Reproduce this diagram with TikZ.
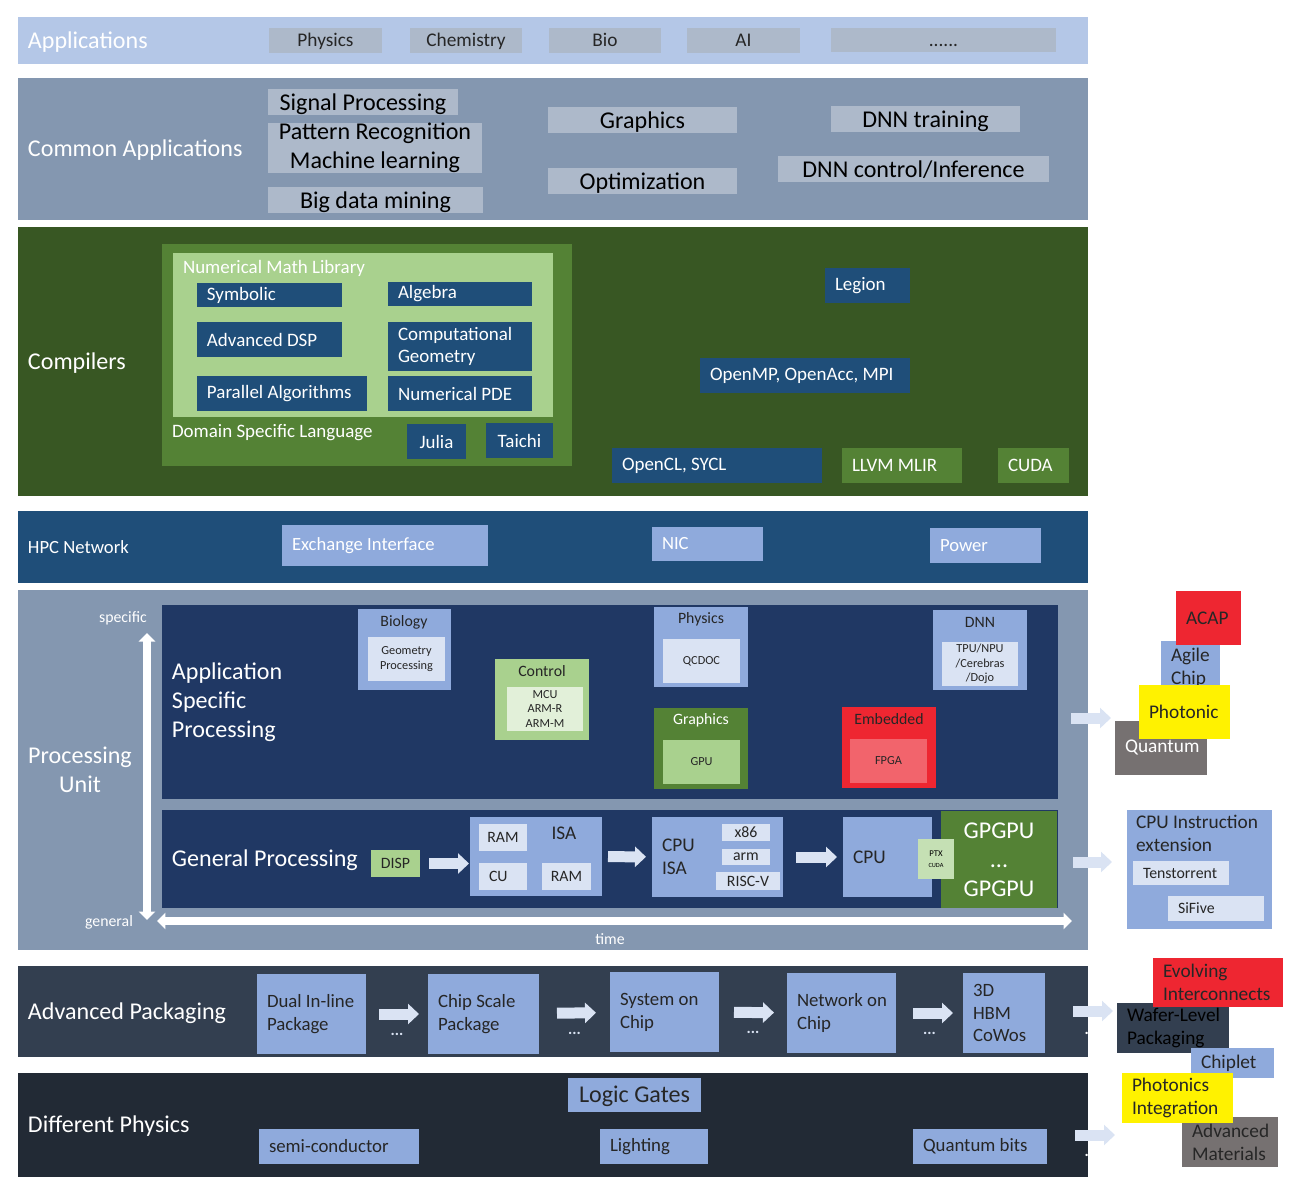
\documentclass[tikz,border=0pt]{standalone}
\usepackage{fontspec}
\setmainfont{Carlito}
\usepackage{xcolor}
\usepackage{tikz}
\usetikzlibrary{arrows.meta,positioning}

\definecolor{appblue}{HTML}{B4C7E7}
\definecolor{appgray}{HTML}{ADB9CA}
\definecolor{slate}{HTML}{8497B0}
\definecolor{dkgreen}{HTML}{385723}
\definecolor{mdgreen}{HTML}{548235}
\definecolor{ltgreen}{HTML}{A9D18E}
\definecolor{pagreen}{HTML}{E2F0D9}
\definecolor{ptxgreen}{HTML}{C5E0B4}
\definecolor{navy}{HTML}{1F4E79}
\definecolor{midblue}{HTML}{8FAADC}
\definecolor{paleblue}{HTML}{DAE3F3}
\definecolor{dknavy}{HTML}{203864}
\definecolor{hotred}{HTML}{EE2631}
\definecolor{pinkred}{HTML}{F2646C}
\definecolor{stone}{HTML}{767171}
\definecolor{pkgslate}{HTML}{333F50}
\definecolor{physdark}{HTML}{222A35}
\definecolor{txtdark}{HTML}{262626}

\begin{document}
\begin{tikzpicture}[
  x=0.02cm, y=-0.02cm,
  every node/.style={inner sep=0pt, outer sep=0pt},
  % w x h box (pixels), placed by its top-left corner
  wh/.style 2 args={rectangle, anchor=north west,
                    minimum width=#1*0.02cm, minimum height=#2*0.02cm},
  % same, text flush left
  lft/.style 2 args={rectangle, anchor=north west, align=flush left,
                     text width=(#1-20)*0.02cm, inner xsep=0.2cm,
                     minimum height=#2*0.02cm},
  % font sizes
  fxl/.style={font=\fontsize{13.7pt}{16.4pt}\selectfont},
  fl/.style={font=\fontsize{11pt}{13pt}\selectfont},
  fm/.style={font=\fontsize{10.8pt}{13pt}\selectfont},
  fs/.style={font=\fontsize{9pt}{10.5pt}\selectfont},
  fxs/.style={font=\fontsize{7pt}{8.2pt}\selectfont},
  oneline/.style={text height=12pt, text depth=3pt},
  band/.style={fxl, text=white},
  appbox/.style={fill=appgray, text=txtdark, font=\fontsize{11pt}{13pt}\selectfont,
                 text height=8.5pt, text depth=1.5pt},
  cabox/.style={fill=appgray, text=black, align=center, fxl},
  cbx/.style={fill=navy, text=white, fm},
  hbx/.style={fill=midblue, text=white, font=\fontsize{10.6pt}{13pt}\selectfont},
  ttl/.style={fs, text=txtdark},
  inbox/.style={fill=paleblue, text=txtdark, fxs, align=center},
  chip/.style={fill=paleblue, text=txtdark, fs},
  pkg/.style={fill=midblue, text=txtdark, font=\fontsize{10.7pt}{13pt}\selectfont},
  stk/.style={text=txtdark, font=\fontsize{11pt}{13pt}\selectfont},
  fat/.style={-{Triangle[length=0.22cm, width=0.4cm]}, line width=0.22cm, paleblue},
  dots/.style={text=paleblue, font=\fontsize{9pt}{10pt}\selectfont\bfseries, yshift=-0.4cm},
  axis/.style={{Triangle[length=0.17cm, width=0.32cm]}-{Triangle[length=0.17cm, width=0.32cm]},
               line width=0.15cm, white}
]
\useasboundingbox (0,0) rectangle (1299,1203);

% ── Applications ──────────────────────────────────────────────
\node[band, oneline, lft={1070}{47}, fill=appblue] (apps) at (18,17) {Applications};
\node[appbox, wh={113}{25}] (aphys) at (269,28)  {Physics};
\node[appbox, wh={112}{25}] (achem) at (410,28)  {Chemistry};
\node[appbox, wh={112}{25}] (abio)  at (549,28)  {Bio};
\node[appbox, wh={113}{25}] (aai)   at (687,28)  {AI};
\node[appbox, wh={225}{24}] (amore) at (831,28)  {......};

% ── Common applications ───────────────────────────────────────
\node[band, oneline, lft={1070}{142}, fill=slate] (common) at (18,78) {Common Applications};
\node[cabox, oneline, wh={190}{24}] (sigproc) at (268,89)  {Signal Processing};
\node[cabox, wh={214}{50}] (patrec)  at (268,123) {Pattern Recognition\\Machine learning};
\node[cabox, oneline, wh={215}{23}] (bigdata) at (268,187) {Big data mining};
\node[cabox, oneline, wh={189}{24}] (graph)   at (548,107) {Graphics};
\node[cabox, oneline, wh={189}{23}] (optim)   at (548,168) {Optimization};
\node[cabox, oneline, wh={189}{24}] (dnntr)   at (831,106) {DNN training};
\node[cabox, oneline, wh={271}{24}] (dnninf)  at (778,156) {DNN control/Inference};

% ── Compilers ─────────────────────────────────────────────────
\node[band, oneline, lft={1070}{269}, fill=dkgreen] (comp) at (18,227) {Compilers};
\node[wh={410}{222}, fill=mdgreen] (dsl) at (162,244) {};
\node[wh={380}{164}, fill=ltgreen] (nml) at (173,253) {};
\node[fm, text=white, anchor=west] (nmllbl) at (183,268) {Numerical Math Library};
\node[cbx, lft={145}{24}] (symb) at (197,283) {Symbolic};
\node[cbx, lft={144}{24}] (alg)  at (388,282) {Algebra};
\node[cbx, lft={145}{35}] (adsp) at (197,322) {Advanced DSP};
\node[cbx, lft={144}{49}] (cgeo) at (388,322) {Computational\\Geometry};
\node[cbx, lft={170}{35}] (palg) at (197,376) {Parallel Algorithms};
\node[cbx, lft={144}{35}] (npde) at (388,376) {Numerical PDE};
\node[fm, text=white, anchor=west] (dsllbl) at (172,433) {Domain Specific Language};
\node[cbx, wh={59}{35}] (julia)  at (407,424) {Julia};
\node[cbx, wh={67}{35}] (taichi) at (486,423) {Taichi};
\node[cbx, lft={85}{35}]  (legion) at (825,268) {Legion};
\node[cbx, lft={210}{35}] (omp)    at (700,358) {OpenMP, OpenAcc, MPI};
\node[cbx, lft={210}{35}] (ocl)    at (612,448) {OpenCL, SYCL};
\node[cbx, lft={120}{35}, fill=mdgreen] (mlir) at (842,448) {LLVM MLIR};
\node[cbx, lft={71}{35},  fill=mdgreen] (cuda) at (998,448) {CUDA};

% ── HPC network ───────────────────────────────────────────────
\node[band, lft={1070}{72}, fill=navy, font=\fontsize{10.6pt}{13pt}\selectfont] (hpc) at (18,511) {HPC Network};
\node[hbx, lft={206}{41}] (exch)  at (282,525) {Exchange Interface};
\node[hbx, lft={111}{34}] (nic)   at (652,527) {NIC};
\node[hbx, lft={111}{35}] (power) at (930,528) {Power};

% ── Processing unit ───────────────────────────────────────────
\node[wh={1070}{360}, fill=slate] (pu) at (18,590) {};
\node[fxl, text=white, align=center] (pulbl) at (80,770) {Processing\\Unit};
\node[fs, text=white] (spec) at (123,618) {specific};
\node[fs, text=white] (gen)  at (109,922) {general};
\node[fs, text=white] (time) at (610,939) {time};

\node[band, lft={896}{194}, fill=dknavy] (asp) at (162,605) {Application\\Specific\\Processing};

% application specific units
\node[wh={93}{81}, fill=midblue] (bio) at (358,609) {};
\node[ttl] at (404,622) {Biology};
\node[inbox, wh={77}{44}] (geo) at (368,637) {Geometry\\Processing};

\node[wh={94}{81}, fill=ltgreen] (ctrl) at (495,659) {};
\node[ttl] at (542,671) {Control};
\node[inbox, wh={76}{44}, fill=pagreen] (mcu) at (507,687) {MCU\\ARM-R\\ARM-M};

\node[wh={94}{80}, fill=midblue] (phys) at (654,607) {};
\node[ttl] at (701,619) {Physics};
\node[inbox, wh={77}{44}] (qcd) at (663,639) {QCDOC};

\node[wh={94}{81}, fill=mdgreen] (gfx) at (654,708) {};
\node[ttl, text=white] at (701,720) {Graphics};
\node[inbox, wh={77}{44}, fill=ltgreen] (gpu) at (663,740) {GPU};

\node[wh={94}{81}, fill=hotred] (emb) at (842,707) {};
\node[ttl] at (889,719) {Embedded};
\node[inbox, wh={77}{44}, fill=pinkred] (fpga) at (850,739) {FPGA};

\node[wh={94}{80}, fill=midblue] (dnn) at (933,610) {};
\node[ttl] at (980,622) {DNN};
\node[inbox, wh={76}{44}] (tpu) at (942,642) {TPU/NPU\\/Cerebras\\/Dojo};

% general processing
\node[band, oneline, lft={896}{98}, fill=dknavy] (gp) at (162,810) {General Processing};
\node[wh={49}{27}, fill=ltgreen, text=txtdark, fs] (disp) at (371,850) {DISP};

\node[wh={132}{79}, fill=midblue] (isa) at (470,817) {};
\node[fl, text=txtdark] at (564,833) {ISA};
\node[chip, wh={48}{27}] (ram1) at (479,824) {RAM};
\node[chip, lft={48}{27}] (cu) at (479,863) {CU};
\node[chip, wh={49}{27}] (ram2) at (542,863) {RAM};

\node[fl, lft={131}{80}, fill=midblue, text=txtdark] (cpuisa) at (652,817) {CPU\\ISA};
\node[chip, wh={48}{17}] (x86)  at (722,824) {x86};
\node[chip, wh={48}{16}] (arm)  at (722,849) {arm};
\node[chip, wh={64}{18}] (riscv) at (716,872) {RISC-V};

\node[fl, lft={89}{80}, fill=midblue, text=txtdark] (cpu) at (843,817) {CPU};
\node[fxl, wh={116}{97}, fill=mdgreen, text=white, align=center] (gpgpu) at (941,811) {GPGPU\\...\\GPGPU};
\node[wh={36}{40}, fill=ptxgreen, text=black, align=center,
      font=\fontsize{5pt}{5pt}\selectfont] (ptx) at (918,839)
      {PTX\\[1pt]{\fontsize{3.6pt}{4pt}\selectfont CUDA}};

\draw[fat, shorten <=0.18cm, shorten >=0.02cm] (disp) -- (disp -| isa.west);
\draw[fat, shorten <=0.12cm, shorten >=0.12cm] (isa) -- (cpuisa);
\draw[fat, shorten <=0.26cm, shorten >=0.12cm] (cpuisa) -- (cpu);

% axes
\coordinate (axtop) at (147,633);
\coordinate (axbot) at (147,920);
\coordinate (tleft)  at (157,921);
\coordinate (tright) at (1072,921);
\draw[axis] (axbot) -- (axtop);
\draw[axis] (tleft) -- (tright);

% ── Advanced packaging ────────────────────────────────────────
\node[band, oneline, lft={1070}{91}, fill=pkgslate] (pack) at (18,966) {Advanced Packaging};
\node[pkg, lft={109}{80}] (dip) at (257,974) {\mbox{Dual In-line}\\Package};
\node[pkg, lft={111}{80}] (csp) at (428,974) {Chip Scale\\Package};
\node[pkg, lft={109}{80}] (soc) at (610,972) {System on\\Chip};
\node[pkg, lft={109}{80}] (noc) at (787,973) {\mbox{Network on}\\Chip};
\node[pkg, lft={82}{80}]  (hbm) at (963,973) {3D\\HBM\\CoWos};

\draw[fat, shorten <=0.26cm, shorten >=0.18cm] (dip) -- node[dots] {...} (csp);
\draw[fat, shorten <=0.36cm, shorten >=0.28cm] (csp) -- node[dots] {...} (soc);
\draw[fat, shorten <=0.30cm, shorten >=0.26cm] (soc) -- node[dots] {...} (noc);
\draw[fat, shorten <=0.34cm, shorten >=0.20cm] (noc) -- node[dots] {...} (hbm);
\node[dots, text=white] (packmore) at (1091,1013) {...};

% ── Different physics ─────────────────────────────────────────
\node[band, oneline, lft={1070}{104}, fill=physdark] (diff) at (18,1073) {Different Physics};
\node[pkg, fxl, oneline, wh={133}{34}] (logic) at (568,1078) {Logic Gates};
\node[pkg, lft={160}{35}] (semi)  at (259,1129) {semi-conductor};
\node[pkg, lft={108}{35}] (light) at (600,1129) {Lighting};
\node[pkg, lft={134}{35}] (qbits) at (913,1129) {Quantum bits};
\node[dots, text=white] (physmore) at (1091,1135) {...};

% ── Future: processing ────────────────────────────────────────
\node[stk, lft={92}{54}, fill=stone, text=white] (quantum) at (1115,721) {Quantum};
\node[stk, lft={59}{54}, fill=midblue] (agile) at (1161,641) {Agile\\Chip};
\node[stk, lft={91}{54}, fill=yellow] (photonic) at (1139,685) {Photonic};
\node[stk, lft={65}{54}, fill=hotred] (acap) at (1176,591) {ACAP};

\node[wh={145}{119}, fill=midblue] (cpuext) at (1127,810) {};
\node[stk, anchor=north west, align=left] (cpuextlbl) at (1136,815) {CPU Instruction\\extension};
\node[chip, lft={96}{24}] (tens)  at (1133,861) {Tenstorrent};
\node[chip, lft={96}{25}] (sifive) at (1168,896) {SiFive};

\coordinate (puout1) at (1071,718);
\coordinate (puout2) at (1073,862);
\draw[fat, shorten >=0.08cm] (puout1) -- (puout1 -| quantum.west);
\draw[fat, shorten >=0.30cm] (puout2) -- (puout2 -| cpuext.west);

% ── Future: packaging / physics ───────────────────────────────
\node[stk, lft={112}{50}, fill=pkgslate, text=black] (wafer) at (1117,1003) {\mbox{Wafer-Level}\\Packaging};
\node[stk, lft={130}{49}, fill=hotred] (evolve) at (1153,958) {Evolving\\Interconnects};
\node[stk, lft={96}{50}, fill=stone] (advmat) at (1182,1117) {Advanced\\Materials};
\node[stk, lft={83}{30}, fill=midblue] (chiplet) at (1191,1048) {Chiplet};
\node[stk, lft={111}{50}, fill=yellow] (phint) at (1122,1073) {Photonics\\Integration};

\coordinate (packout) at (1073,1011);
\coordinate (physout) at (1075,1135);
\draw[fat, shorten >=0.08cm] (packout) -- (packout -| wafer.west);
\draw[fat, shorten >=0.14cm] (physout) -- (physout -| phint.west);

\end{tikzpicture}
\end{document}
